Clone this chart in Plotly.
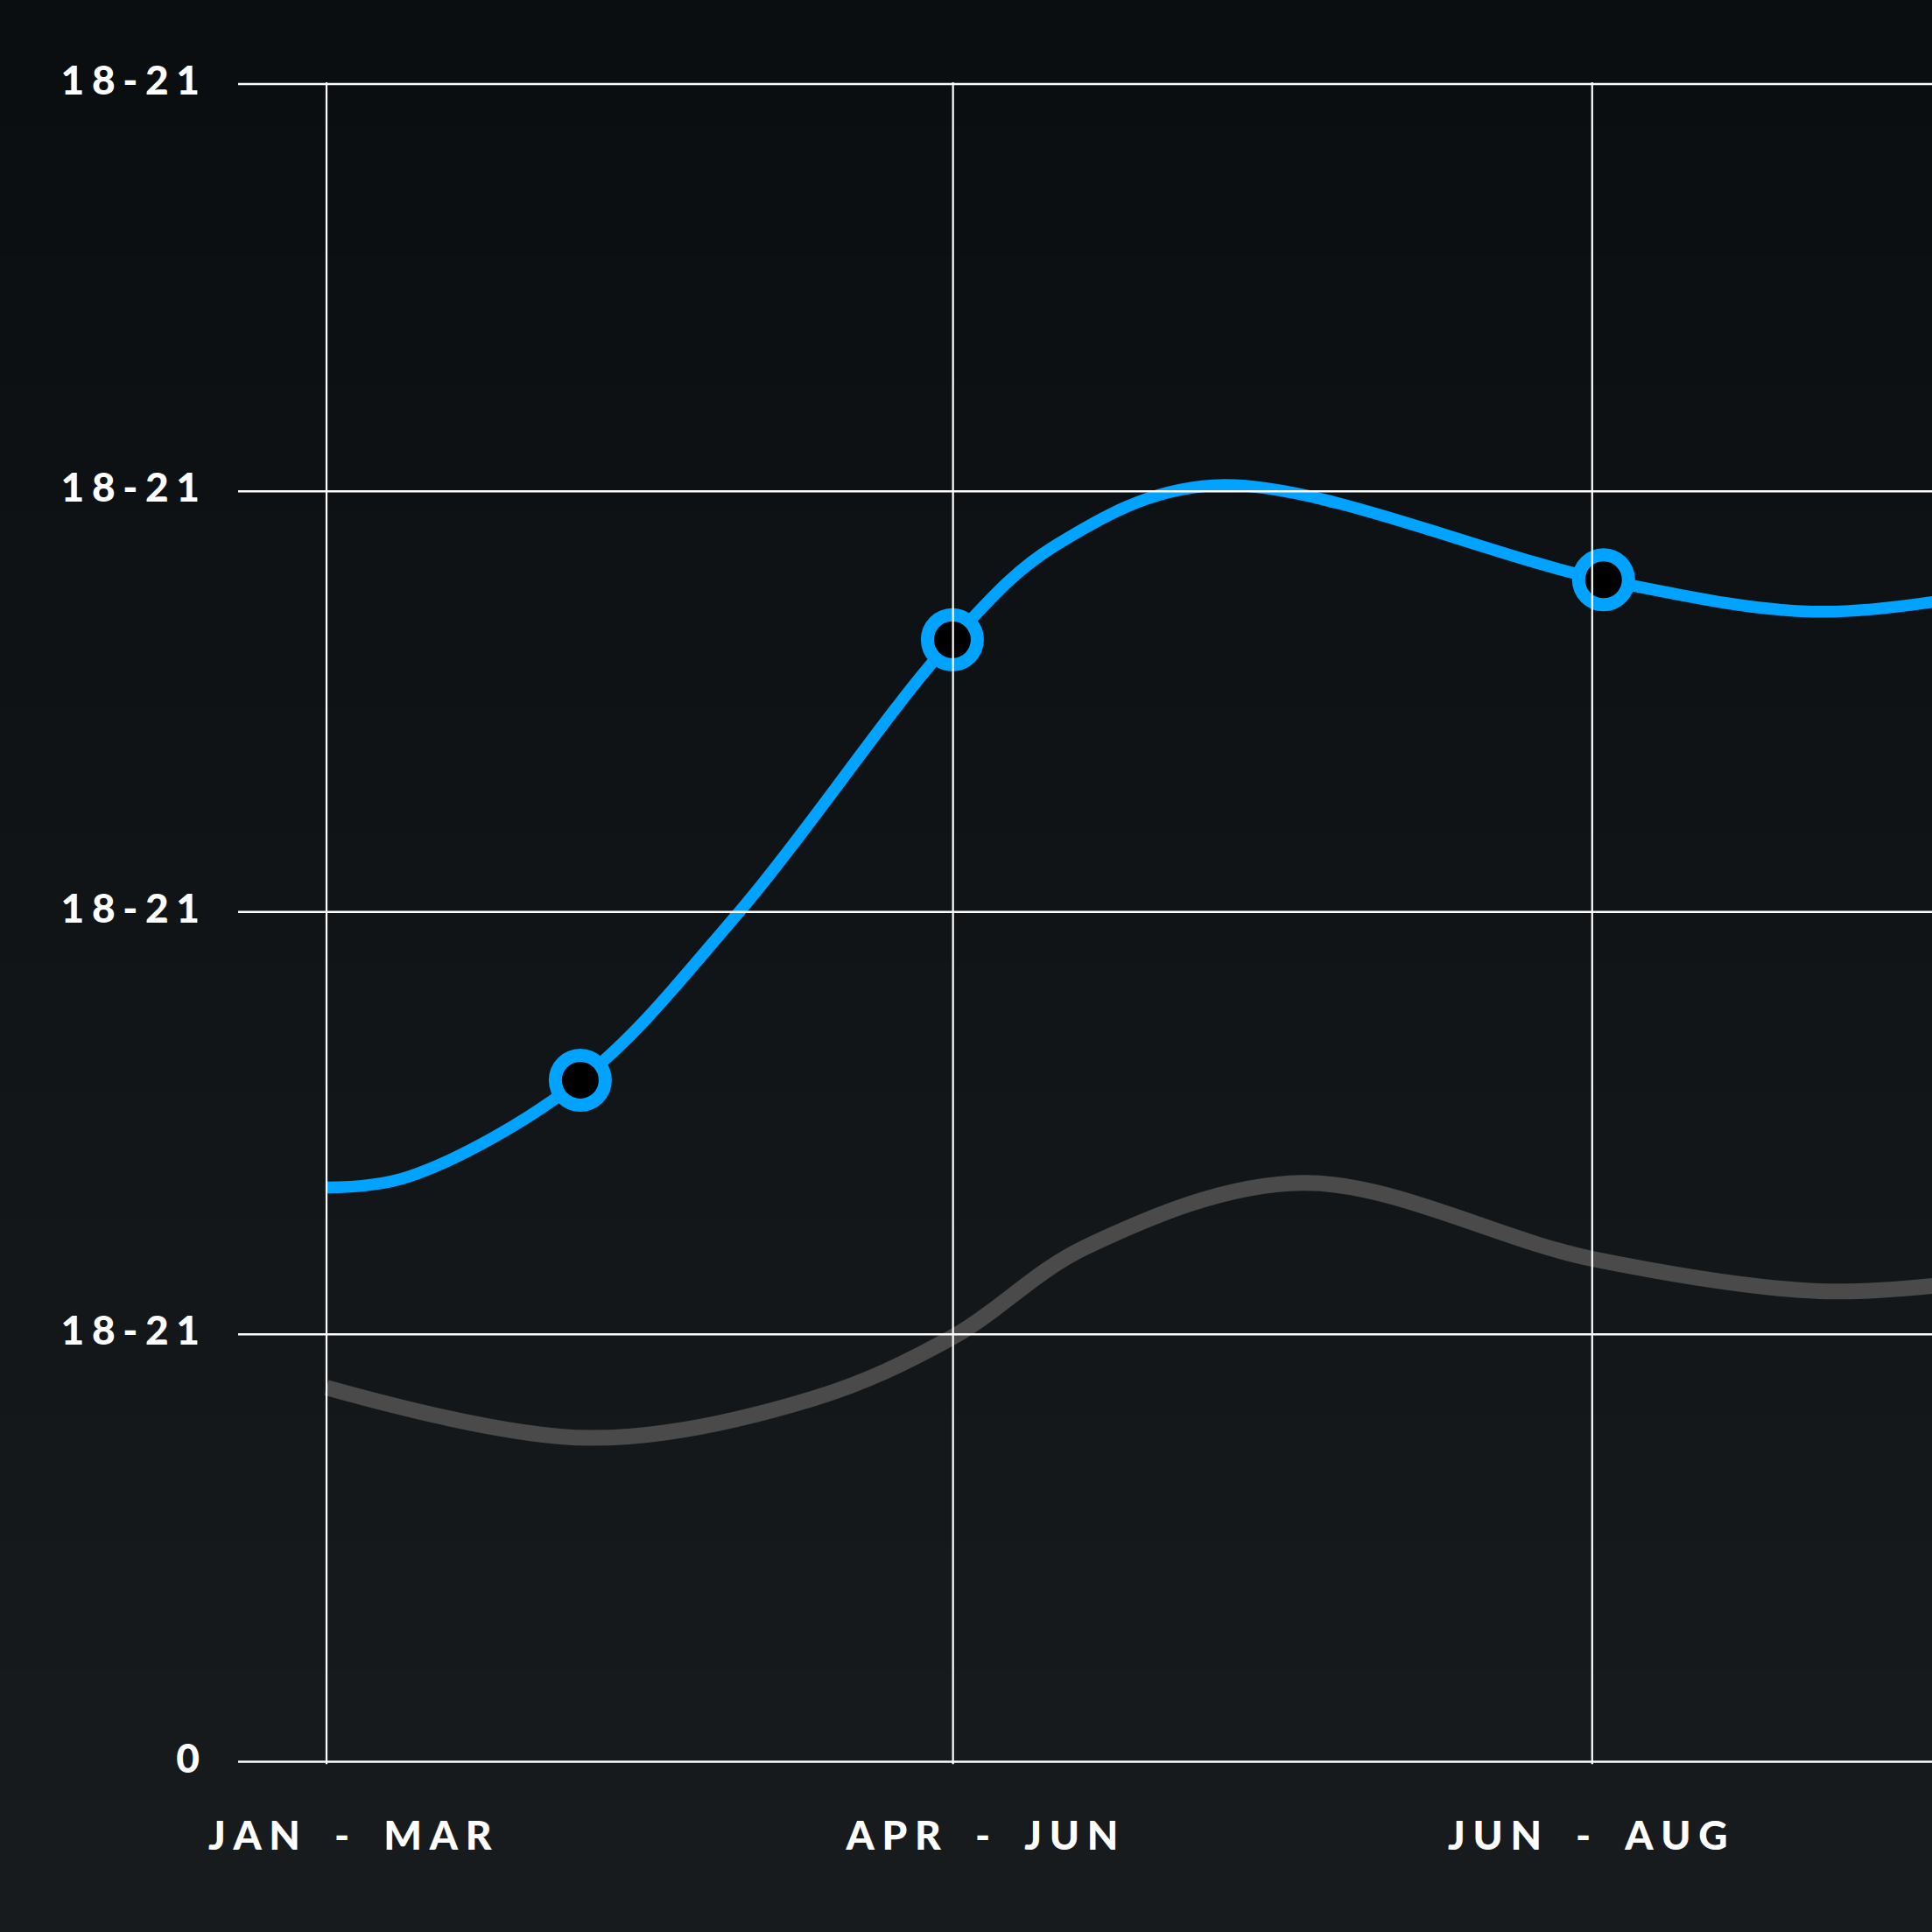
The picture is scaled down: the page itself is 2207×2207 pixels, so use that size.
import plotly.graph_objects as go

# 資料
quarters = ["JAN - MAR", "APR - JUN", "JUN - AUG"]
quarter_grid = [0, 0.99, 2.0]          # 垂直格線位置
quarter_label_pos = [0.037, 1.036, 1.993]

y_ticks = [0, 101.9, 202.6, 302.9, 400]
y_labels = ["0", "18-21", "18-21", "18-21", "18-21"]

blue_x = [0, 0.13, 0.401, 0.652, 0.989, 1.152, 1.401, 2.018, 2.349, 2.6]
blue_y = [136.9, 139.5, 162.5, 202.6, 267.5, 290.0, 304.3, 281.8, 274.2, 278.0]

gray_x = [0, 0.415, 0.769, 0.990, 1.201, 1.542, 2.0, 2.359, 2.6]
gray_y = [89.2, 77.2, 86.6, 101.3, 122.8, 138.0, 119.9, 112.2, 114.5]

point_x = [0.401, 0.989, 2.018]
point_y = [162.5, 267.5, 281.8]

BLUE = "#00a3ff"
GRAY = "#4a4a4a"
FONT = dict(family="Lato", size=46, color="#ffffff", weight=900)
GAP = "\u2009\u200a"


def spaced(text):
    # 用細空白模擬字距，連字號兩側多留一點
    left, right = text.split(" - ")
    mid = GAP + " \u00a0" + GAP + "-" + GAP + "\u00a0 " + GAP
    return GAP.join(left) + mid + GAP.join(right)


fig = go.Figure()

fig.add_trace(go.Scatter(x=gray_x, y=gray_y, mode="lines",
                         line=dict(color=GRAY, width=18, shape="spline", smoothing=1.0),
                         hoverinfo="skip"))
fig.add_trace(go.Scatter(x=blue_x, y=blue_y, mode="lines",
                         line=dict(color=BLUE, width=13.5, shape="spline", smoothing=1.0),
                         hoverinfo="skip"))
fig.add_trace(go.Scatter(x=point_x, y=point_y, mode="markers",
                         marker=dict(size=57, color="#000000", line=dict(color=BLUE, width=15)),
                         hoverinfo="skip"))

# 背景漸層
n_bands = 30
top = (11, 14, 17)
bottom = (24, 27, 30)
y_lo, y_hi = -190 / 1927, 1 + 90 / 1927
for i in range(n_bands):
    t = i / (n_bands - 1)
    c = tuple(round(top[k] + (bottom[k] - top[k]) * t) for k in range(3))
    y1 = y_hi - (y_hi - y_lo) * i / n_bands
    y0 = y_hi - (y_hi - y_lo) * (i + 1) / n_bands
    fig.add_shape(type="rect", xref="paper", yref="paper", x0=-0.15, x1=1.01,
                  y0=y0 - 0.002, y1=y1 + 0.002, line=dict(width=0),
                  fillcolor="rgb(%d,%d,%d)" % c, layer="below")

# 格線畫在曲線上方
for yv in y_ticks:
    fig.add_shape(type="line", xref="paper", yref="y", x0=0, x1=1, y0=yv, y1=yv,
                  line=dict(color="#ffffff", width=2.5), layer="above")
for xv in quarter_grid:
    fig.add_shape(type="line", xref="x", yref="y", x0=xv, x1=xv, y0=-0.6, y1=400.4,
                  line=dict(color="#ffffff", width=2.2), layer="above")

fig.update_layout(
    width=2207, height=2207,
    margin=dict(l=272, r=0, t=90, b=190),
    paper_bgcolor="#111417",
    plot_bgcolor="rgba(0,0,0,0)",
    showlegend=False,
    xaxis=dict(range=[-0.1397, 2.537], tickvals=quarter_label_pos,
               ticktext=[spaced(q) for q in quarters], tickfont=FONT,
               showgrid=False, zeroline=False, showline=False, ticks="",
               ticklabelstandoff=49, fixedrange=True),
    yaxis=dict(range=[-0.94, 401.25], tickvals=y_ticks,
               ticktext=[GAP.join(s) for s in y_labels], tickfont=FONT,
               showgrid=False, zeroline=False, showline=False, ticks="",
               ticklabelstandoff=43, ticklabelshift=-4, fixedrange=True),
)

fig.write_html("out.html", config={"displayModeBar": False},
               post_script="document.body.style.margin='0';"
                           "document.body.style.background='#111417';")
